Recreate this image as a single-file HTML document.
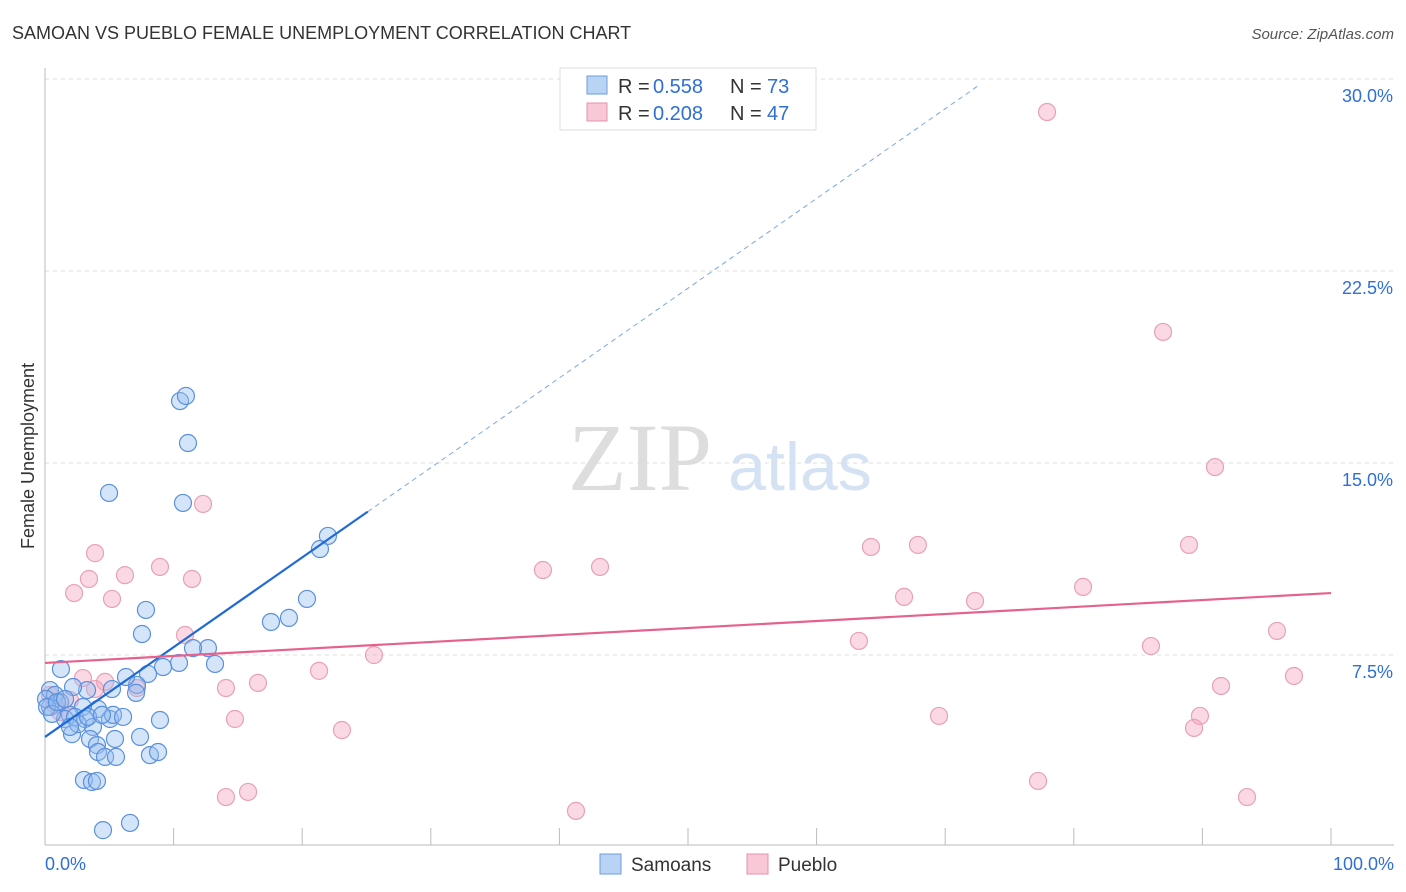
<!DOCTYPE html>
<html><head><meta charset="utf-8"><style>
body{margin:0;background:#fff;font-family:"Liberation Sans",sans-serif}
svg{display:block}
</style></head><body>
<svg width="1406" height="892">
<text x="12" y="39" font-size="18" fill="#333">SAMOAN VS PUEBLO FEMALE UNEMPLOYMENT CORRELATION CHART</text>
<text x="1394" y="39" font-size="15" fill="#555" font-style="italic" text-anchor="end">Source: ZipAtlas.com</text>
<text x="640" y="490" font-size="96" fill="#ddd" font-family="Liberation Serif" text-anchor="middle">ZIP</text>
<text x="800" y="490" font-size="68" fill="#d4e2f4" text-anchor="middle">atlas</text>
<text transform="translate(34,456) rotate(-90)" font-size="18" fill="#333" text-anchor="middle">Female Unemployment</text>
<g id="grid"></g><g id="axes"></g><g id="pts"></g><g id="lines"></g>
<g>
<rect x="560" y="68" width="256" height="62" fill="#fff" stroke="#ddd"/>
<rect x="587" y="76" width="20" height="18" fill="#b9d3f5" stroke="#6a9de0"/>
<rect x="587" y="103" width="20" height="18" fill="#f9c8d7" stroke="#e890ac"/>
<text x="618" y="93" font-size="20" fill="#333">R =</text>
<text x="653" y="93" font-size="20" fill="#2f6fd6">0.558</text>
<text x="730" y="93" font-size="20" fill="#333">N =</text>
<text x="767" y="93" font-size="20" fill="#2f6fd6">73</text>
<text x="618" y="120" font-size="20" fill="#333">R =</text>
<text x="653" y="120" font-size="20" fill="#2f6fd6">0.208</text>
<text x="730" y="120" font-size="20" fill="#333">N =</text>
<text x="767" y="120" font-size="20" fill="#2f6fd6">47</text>
</g>
<g>
<rect x="600" y="854" width="21" height="20" fill="#b9d3f5" stroke="#6a9de0"/>
<text x="631" y="871" font-size="19" fill="#333">Samoans</text>
<rect x="747" y="854" width="21" height="20" fill="#f9c8d7" stroke="#e890ac"/>
<text x="778" y="871" font-size="19" fill="#333">Pueblo</text>
</g>
</svg>
<script>
const yTicks=[7.5,15,22.5,30];
const yTickLabels=["7.5%","15.0%","22.5%","30.0%"];
const xTickLabels=["0.0%","100.0%"];
const samoaX=[10.5,10.96,11.12,4.98,10.73,22.0,21.38,7.85,20.37,18.97,17.57,7.54,12.67,11.51,10.42,9.18,8.01,13.22,1.24,7.15,7.08,5.21,6.3,3.27,2.18,0.39,0.78,1.17,0.39,4.12,2.95,1.94,1.56,2.33,3.11,5.05,5.29,6.07,8.94,3.73,2.1,3.5,4.04,4.12,4.67,5.52,8.16,8.79,3.03,3.65,4.04,4.51,6.61,0.08,0.16,0.54,0.93,1.56,2.57,3.35,1.94,4.43,5.44,7.39];
const samoaY=[17.42,17.62,15.78,13.83,13.44,12.15,11.64,9.26,9.69,8.95,8.79,8.32,7.77,7.77,7.19,7.03,6.76,7.15,6.95,6.33,6.02,6.17,6.64,6.13,6.25,6.13,5.94,5.66,5.47,5.39,5.47,5.16,5.0,5.08,5.0,5.0,5.16,5.08,4.96,4.69,4.41,4.22,3.98,3.71,3.52,3.52,3.59,3.71,2.62,2.54,2.58,0.66,0.94,5.78,5.47,5.2,5.66,5.78,4.8,5.08,4.69,5.16,4.22,4.3];
const puebloX=[77.92,86.94,90.98,12.29,3.89,6.22,8.94,11.43,3.42,2.26,5.21,38.72,43.16,64.23,67.88,88.96,80.72,72.32,66.8,10.89,63.29,86.0,95.8,25.58,21.31,2.95,4.67,7.15,14.07,16.56,91.45,97.12,69.52,14.77,89.81,89.35,23.09,0.78,1.17,0.39,77.22,93.47,15.79,14.07,41.29,1.94,3.89];
const puebloY=[28.71,20.12,14.84,13.4,11.48,10.62,10.94,10.47,10.47,9.92,9.69,10.82,10.94,11.72,11.8,11.8,10.16,9.61,9.77,8.28,8.05,7.85,8.44,7.5,6.88,6.6,6.45,6.21,6.21,6.41,6.29,6.68,5.12,5.0,5.12,4.65,4.57,5.55,5.27,5.94,2.58,1.95,2.15,1.95,1.41,5.74,6.17];
const samoaLine=[0,25.1,72.6]; const samoaLineY=[4.3,13.1,29.75];
const puebloLine=[0,100]; const puebloLineY=[7.19,9.92];
const X=v=>45+v*12.86, Y=v=>847-v*25.6;
const NS="http://www.w3.org/2000/svg";
function mk(t,a,p){const e=document.createElementNS(NS,t);for(const k in a)e.setAttribute(k,a[k]);p.appendChild(e);return e;}
const grid=document.getElementById('grid'),axes=document.getElementById('axes'),pts=document.getElementById('pts'),lines=document.getElementById('lines');
yTicks.forEach((t,i)=>{
 const g=mk('line',{x1:45,x2:1394,y1:Y(t),y2:Y(t),stroke:'#ddd','stroke-dasharray':'4,4'},grid);
 
 
 const l=mk('text',{x:1393,y:Y(t)+23,'font-size':18,fill:'#2f6fd6','text-anchor':'end'},axes);
 l.textContent=yTickLabels[i];
 
 
});
const ya=mk('line',{x1:45,x2:45,y1:68,y2:845,stroke:'#bbb'},axes);


const xa=mk('line',{x1:45,x2:1394,y1:845,y2:845,stroke:'#bbb'},axes);


for(let i=1;i<=10;i++){const t=mk('line',{x1:X(i*10),x2:X(i*10),y1:828,y2:845,stroke:'#bbb'},axes);
 
 }
[[0,'start',45],[100,'end',1394]].forEach((d,i)=>{const l=mk('text',{x:d[2],y:870,'font-size':18,fill:'#2f6fd6','text-anchor':d[1]},axes);l.textContent=xTickLabels[i];
 
 });
puebloX.forEach((x,i)=>{const c=mk('circle',{cx:X(x),cy:Y(puebloY[i]),r:8.5,fill:'rgba(244,160,188,0.4)',stroke:'#e8a0b8','stroke-width':1.2},pts);
 
 });
samoaX.forEach((x,i)=>{const c=mk('circle',{cx:X(x),cy:Y(samoaY[i]),r:8.5,fill:'rgba(150,190,240,0.4)',stroke:'#5a90dc','stroke-width':1.2},pts);
 
 });
const s1=mk('line',{x1:X(samoaLine[0]),y1:Y(samoaLineY[0]),x2:X(samoaLine[1]),y2:Y(samoaLineY[1]),stroke:'#1f6ad6','stroke-width':2.2},lines);


const s2=mk('line',{x1:X(samoaLine[1]),y1:Y(samoaLineY[1]),x2:X(samoaLine[2]),y2:Y(samoaLineY[2]),stroke:'#7aa6e6','stroke-width':1,'stroke-dasharray':'5,4'},lines);


const p1=mk('line',{x1:X(puebloLine[0]),y1:Y(puebloLineY[0]),x2:X(puebloLine[1]),y2:Y(puebloLineY[1]),stroke:'#e5628f','stroke-width':2.2},lines);


</script>
</body></html>
